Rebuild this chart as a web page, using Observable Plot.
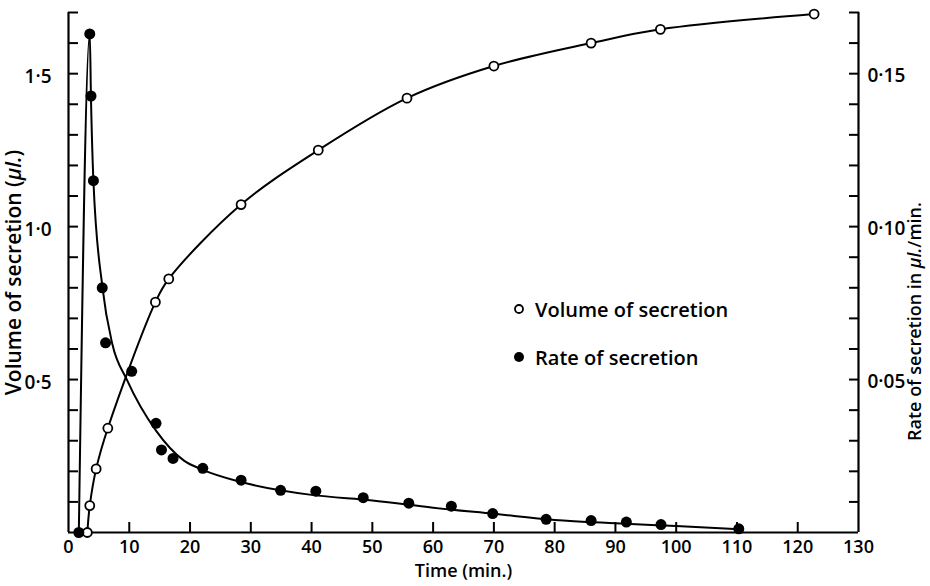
<!DOCTYPE html>
<html>
<head>
<meta charset="utf-8">
<script src="https://cdn.jsdelivr.net/npm/d3@7"></script>
<script src="https://cdn.jsdelivr.net/npm/@observablehq/plot@0.6"></script>
<style>
  html, body { margin: 0; padding: 0; background: #fff; }
  #wrap { position: relative; width: 930px; height: 586px; }
  #legend { position: absolute; left: 513px; top: 285px; font-family: "Open Sans", Lato, sans-serif; font-weight: 600; font-size: 20px; color: #000; }
  #legend .row { display: flex; align-items: center; height: 48px; }
  #legend svg { margin-right: 10px; }
</style>
</head>
<body>
<div id="wrap"></div>
<script>
// Volume of secretion (µl) — open circles
const volTime  = [3.1, 3.5, 4.55, 6.47, 14.3, 16.5, 28.4, 41.1, 55.7, 70.0, 86.0, 97.4, 122.7];
const volValue = [0.0, 0.088, 0.208, 0.341, 0.753, 0.829, 1.072, 1.25, 1.42, 1.525, 1.60, 1.645, 1.695];

// Rate of secretion (µl/min) — filled circles
const rateTime  = [1.7, 3.5, 3.7, 4.1, 5.55, 6.1, 10.4, 14.4, 15.3, 17.2, 22.1, 28.4, 34.9, 40.7, 48.5, 56.0, 63.0, 69.8, 78.6, 86.0, 91.8, 97.5, 110.3];
const rateValue = [0.0, 0.163, 0.1427, 0.115, 0.080, 0.062, 0.0527, 0.0357, 0.027, 0.0242, 0.021, 0.0171, 0.0138, 0.0135, 0.0114, 0.0096, 0.0086, 0.0062, 0.0043, 0.0039, 0.0034, 0.0026, 0.0012];

// Fitted curve for rate
const fitTime = [1.7, 3.5, 3.7, 4.1, 5.6, 7.2, 9.6, 14.4, 19.0, 22.1, 28.4, 40, 50, 60, 70, 80, 90, 100, 110.3];
const fitRate = [0.0, 0.163, 0.142, 0.115, 0.080, 0.0617, 0.050, 0.0333, 0.0235, 0.0205, 0.0165, 0.0123, 0.0105, 0.0081, 0.0061, 0.0041, 0.0030, 0.0021, 0.0011];

// Axes
const xTicks = [0, 10, 20, 30, 40, 50, 60, 70, 80, 90, 100, 110, 120, 130];
const xTickLabels = ["0", "10", "20", "30", "40", "50", "60", "70", "80", "90", "100", "110", "120", "130"];
const leftMinorTicks = [0.1, 0.2, 0.3, 0.4, 0.5, 0.6, 0.7, 0.8, 0.9, 1.0, 1.1, 1.2, 1.3, 1.4, 1.5, 1.6, 1.7];
const leftTicks = [0.5, 1.0, 1.5];
const leftTickLabels = ["0·5", "1·0", "1·5"];
const rightMinorTicks = [0.01, 0.02, 0.03, 0.04, 0.05, 0.06, 0.07, 0.08, 0.09, 0.10, 0.11, 0.12, 0.13, 0.14, 0.15, 0.16, 0.17];
const rightTicks = [0.05, 0.10, 0.15];
const rightTickLabels = ["0·05", "0·10", "0·15"];
const rateToVolume = 10; // right axis: 0.05 µl/min aligns with 0.5 µl

const xLabel = "Time (min.)";
const yLeftLabel = "Volume of secretion (µl.)";
const yRightLabel = "Rate of secretion in µl./min.";
const legendLabels = ["Volume of secretion", "Rate of secretion"];

const volData = volTime.map((t, i) => ({t, v: volValue[i]}));
const rateData = rateTime.map((t, i) => ({t, r: rateValue[i]}));
const fitData = fitTime.map((t, i) => ({t, r: fitRate[i]}));

const xLab = new Map(xTicks.map((v, i) => [v, xTickLabels[i]]));
const lLab = new Map(leftTicks.map((v, i) => [v, leftTickLabels[i]]));
const rLab = new Map(rightTicks.map((v, i) => [v * rateToVolume, rightTickLabels[i]]));

const font = "'Open Sans', Lato, sans-serif";

const chart = Plot.plot({
  width: 930,
  height: 586,
  marginLeft: 68,
  marginRight: 72,
  marginTop: 12,
  marginBottom: 54,
  x: {domain: [0, 130]},
  y: {domain: [0, 1.7]},
  style: {fontFamily: font, fontSize: "19px", fontWeight: 600, color: "#000", background: "#fff"},
  marks: [
    // axis lines
    Plot.ruleX([0], {stroke: "#000", strokeWidth: 2.2}),
    Plot.ruleX([130], {stroke: "#000", strokeWidth: 2.2}),
    Plot.ruleY([0], {stroke: "#000", strokeWidth: 2.2}),
    // inward ticks
    Plot.axisY({anchor: "left", ticks: leftMinorTicks, tickSize: 10, dx: 10, tickFormat: () => "", label: null, strokeWidth: 2}),
    Plot.axisY({anchor: "right", ticks: rightMinorTicks.map(d => d * rateToVolume), tickSize: 10, dx: -10, tickFormat: () => "", label: null, strokeWidth: 2}),
    Plot.axisX({anchor: "bottom", ticks: xTicks.slice(1, -1), tickSize: 10, dy: -10, tickFormat: () => "", label: null, strokeWidth: 2}),
    // tick labels
    Plot.axisY({anchor: "left", ticks: leftTicks, tickSize: 0, tickPadding: 17, dy: 3, tickFormat: d => lLab.get(d), label: null, fontSize: 19}),
    Plot.axisY({anchor: "right", ticks: rightTicks.map(d => d * rateToVolume), tickSize: 0, tickPadding: 9, dy: 2, tickFormat: d => rLab.get(d), label: null, fontSize: 19}),
    Plot.axisX({anchor: "bottom", ticks: xTicks, tickSize: 0, tickPadding: 8, tickFormat: d => xLab.get(d), label: null, fontSize: 18}),
    // axis titles
    Plot.text([xLabel], {frameAnchor: "bottom", textAnchor: "middle", dy: 44, text: d => d, fontSize: 18, fontWeight: 600}),
    Plot.text([yLeftLabel], {frameAnchor: "left", textAnchor: "middle", dx: -54, rotate: -90, text: d => d, fontSize: 21, fontWeight: 600, className: "ylabl"}),
    Plot.text([yRightLabel], {frameAnchor: "right", textAnchor: "middle", dx: 57, dy: 49, rotate: -90, text: d => d, fontSize: 18, fontWeight: 600, className: "ylabr"}),
    // volume
    Plot.line(volData, {x: "t", y: "v", curve: "catmull-rom", stroke: "#000", strokeWidth: 2}),
    Plot.dot(volData, {x: "t", y: "v", r: 4.5, fill: "#fff", stroke: "#000", strokeWidth: 1.8}),
    // rate
    Plot.line(fitData, {x: "t", y: d => d.r * rateToVolume, curve: "monotone-x", stroke: "#000", strokeWidth: 2}),
    Plot.dot(rateData, {x: "t", y: d => d.r * rateToVolume, r: 5.5, fill: "#000", stroke: "none"})
  ]
});

// italic µ in axis titles
function italicMu(sel) {
  chart.querySelectorAll(sel + " text").forEach(t => {
    const s = t.textContent;
    const i = s.indexOf("µl.");
    if (i < 0) return;
    t.textContent = "";
    const ns = "http://www.w3.org/2000/svg";
    const a = document.createElementNS(ns, "tspan"); a.textContent = s.slice(0, i);
    const b = document.createElementNS(ns, "tspan"); b.textContent = "µl."; b.setAttribute("font-style", "italic");
    const c = document.createElementNS(ns, "tspan"); c.textContent = s.slice(i + 3);
    t.append(a, b, c);
  });
}
italicMu(".ylabl");
italicMu(".ylabr");

const wrap = document.getElementById("wrap");
wrap.appendChild(chart);

// legend inside the plot area
const legend = document.createElement("div");
legend.id = "legend";
legendLabels.forEach((lab, i) => {
  const row = document.createElement("div");
  row.className = "row";
  const sw = i === 0
    ? '<svg width="12" height="12"><circle cx="6" cy="6" r="4" fill="#fff" stroke="#000" stroke-width="1.8"/></svg>'
    : '<svg width="12" height="12"><circle cx="6" cy="6" r="5" fill="#000"/></svg>';
  row.innerHTML = sw + "<span></span>";
  row.querySelector("span").textContent = lab;
  legend.appendChild(row);
});
wrap.appendChild(legend);
</script>
</body>
</html>
